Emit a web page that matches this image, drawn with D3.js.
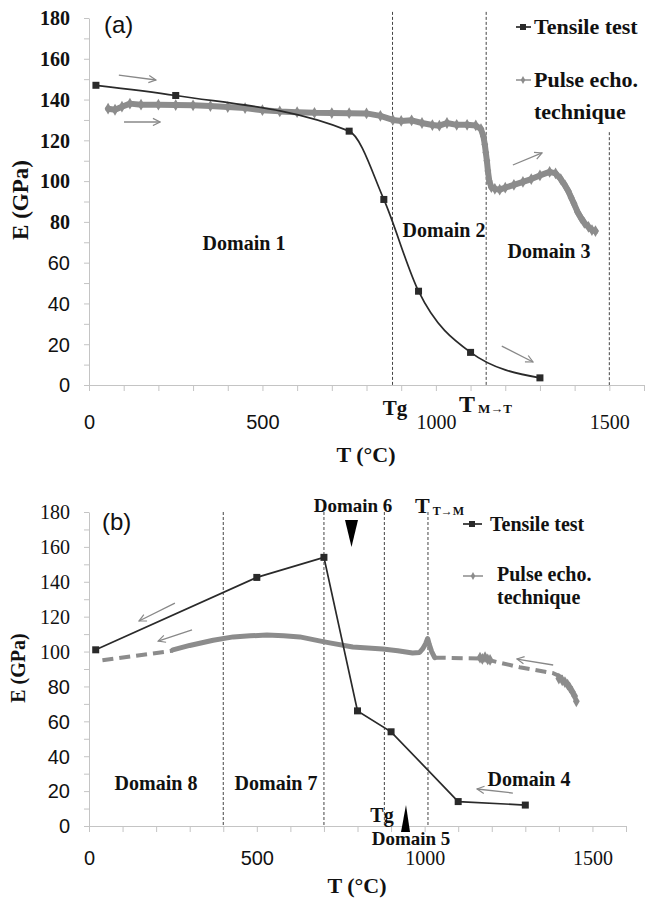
<!DOCTYPE html>
<html>
<head>
<meta charset="utf-8">
<script src="https://cdn.jsdelivr.net/npm/d3@7"></script>
<style>
  body { margin: 0; background: #fff; }
  svg text { fill: #111; }
</style>
</head>
<body>
<svg id="chart" width="645" height="898"></svg>
<script>
'use strict';

// ---------- panel (a) : heating ----------
const tensileA = [[20, 147], [250, 142], [750, 124.5], [850, 91], [950, 46], [1100, 16], [1300, 3.5]];
const pulseA = [
  [55, 135.5], [75, 135], [95, 136.5], [118, 138], [150, 137.5], [200, 137.5], [250, 137.3],
  [300, 137.2], [350, 136.8], [400, 136.3], [450, 135.8], [500, 134.8], [550, 134.2], [600, 133.8],
  [650, 133.5], [700, 133.4], [750, 133.3], [800, 133.2], [840, 132], [876, 130], [900, 129.5],
  [930, 129.8], [960, 128.5], [990, 127.5], [1010, 127.2], [1032, 128.5], [1060, 127.6], [1090, 127.6],
  [1115, 127.3], [1130, 125.5], [1137, 122], [1141, 118], [1144, 114], [1147, 110], [1150, 105],
  [1154, 100], [1160, 97], [1170, 96.2], [1184, 95.8], [1200, 96.8], [1225, 98.2], [1251, 99.6],
  [1275, 101], [1300, 102.8], [1328, 104.5], [1345, 103.8], [1360, 101], [1372, 98], [1382, 95],
  [1390, 92], [1398, 89], [1408, 85], [1418, 82], [1428, 79.5], [1440, 77.5], [1450, 76], [1460, 75.5]
];
const vlinesA = [875, 1145, 1500];
const vlineTopsA = [183, 183, 124];
const arrowsA = [[86, 152, 193, 149.6], [101, 129, 205, 129], [1222, 107.9, 1306, 113.8], [1190, 19.1, 1280, 11.3]];

// ---------- panel (b) : cooling ----------
const tensileB = [[20, 101], [500, 142.5], [700, 154], [800, 66], [900, 54], [1100, 14], [1300, 12]];
const pulseBDashLow = [[40, 95], [250, 100.5]];
const pulseBSolid = [
  [250, 101], [300, 103.5], [370, 106.5], [430, 108.4], [480, 109], [530, 109.5], [580, 109],
  [628, 108.4], [690, 106], [717, 105], [786, 102.6], [875, 101.5], [920, 100.5], [964, 99.2],
  [985, 99.5], [994, 101.5], [1003, 104.5], [1009, 107.5], [1014, 104], [1021, 100], [1030, 96.5]
];
const pulseBDashHigh = [[1030, 96.5], [1170, 96], [1205, 94.5], [1283, 91], [1381, 87.7], [1425, 84]];
const pulseBDots = [
  [1165, 96.5], [1172, 95.8], [1180, 96.8], [1188, 95.5], [1195, 95.2],
  [1400, 84.5], [1410, 83.5], [1418, 82.5], [1426, 81], [1432, 79.5], [1440, 77], [1447, 74.5], [1452, 71.5]
];
const vlinesB = [400, 700, 880, 1010];
const vlineTopsB = [180, 180, 180, 180];
const arrowsB = [[256, 127.8, 149, 117.5], [307, 112.4, 206, 106], [1383, 92.3, 1275, 95.7], [1263, 18.9, 1156, 21.2]];

const xTicks = d3.range(0, 1601, 100);
const xLabels = [0, 500, 1000, 1500];
const yTicks = d3.range(0, 181, 10);

const SERIF = '"Liberation Serif", "Times New Roman", serif';
const SANS = '"Liberation Sans", Arial, sans-serif';
const AXIS_C = '#c4c4c4';
const PULSE_C = '#8c8c8c';
const TENS_C = '#2a2a2a';

const svg = d3.select('#chart');

const defs = svg.append('defs');
defs.append('marker')
  .attr('id', 'arrow')
  .attr('viewBox', '0 0 10 10')
  .attr('refX', 9).attr('refY', 5)
  .attr('markerWidth', 9).attr('markerHeight', 9)
  .attr('markerUnits', 'userSpaceOnUse')
  .attr('orient', 'auto')
  .append('path')
  .attr('d', 'M1,1 L9,5 L1,9')
  .attr('fill', 'none')
  .attr('stroke', '#888')
  .attr('stroke-width', 1.3);

function txt(g, x, y, s, size, opts) {
  opts = opts || {};
  return g.append('text')
    .attr('x', x).attr('y', y)
    .attr('text-anchor', opts.anchor || 'middle')
    .style('font-family', opts.font || SERIF)
    .style('font-weight', opts.weight || 'bold')
    .style('font-size', size + 'px')
    .text(s);
}

function drawPanel(o) {
  const x = d3.scaleLinear().domain([0, 1600]).range([89, o.right]);
  const y = d3.scaleLinear().domain([0, 180]).range([o.bottom, o.top]);
  const g = svg.append('g');

  // y axis
  const yAxis = d3.axisLeft(y).tickValues(yTicks).tickSize(5).tickSizeOuter(0).tickPadding(14)
    .tickFormat(d => d % 20 === 0 ? d : '');
  const ya = g.append('g').attr('transform', 'translate(89,0)').call(yAxis);
  ya.select('.domain').attr('stroke', AXIS_C);
  ya.selectAll('.tick line').attr('stroke', AXIS_C);
  ya.selectAll('.tick text')
    .attr('dy', '0.34em')
    .style('font-size', '20px')
    .style('font-family', d => d >= o.serifFrom ? SERIF : SANS)
    .style('font-weight', d => d >= o.serifFrom ? o.serifWeight : 'normal');

  // x axis
  const xAxis = d3.axisBottom(x).tickValues(xTicks).tickSize(6).tickSizeOuter(0)
    .tickFormat(d => xLabels.includes(d) ? d : '');
  const xa = g.append('g').attr('transform', `translate(0,${o.bottom})`).call(xAxis);
  xa.select('.domain').attr('stroke', AXIS_C);
  xa.selectAll('.tick line').attr('stroke', AXIS_C);
  xa.selectAll('.tick text')
    .attr('y', o.xLabelOff).attr('dy', 0)
    .style('font-size', '20px')
    .style('font-family', d => d >= 1000 ? SERIF : SANS);

  // dashed domain boundaries
  g.selectAll('.vline').data(o.vlines).enter().append('line')
    .attr('x1', d => x(d)).attr('x2', d => x(d))
    .attr('y1', (d, i) => y(o.vtops[i])).attr('y2', o.bottom)
    .attr('stroke', '#444').attr('stroke-width', 1).attr('stroke-dasharray', '3,2');

  // arrows
  g.selectAll('.arr').data(o.arrows).enter().append('line')
    .attr('x1', d => x(d[0])).attr('y1', d => y(d[1]))
    .attr('x2', d => x(d[2])).attr('y2', d => y(d[3]))
    .attr('stroke', '#888').attr('stroke-width', 1.3)
    .attr('marker-end', 'url(#arrow)');

  return { g, x, y };
}

// ================= panel (a) =================
const A = drawPanel({
  right: 644, top: 18, bottom: 385, xLabelOff: 44,
  serifFrom: 80, serifWeight: 'bold',
  vlines: vlinesA, vtops: vlineTopsA, arrows: arrowsA
});

const lineA = d3.line().x(d => A.x(d[0])).y(d => A.y(d[1]));
A.g.append('path').datum(pulseA)
  .attr('d', lineA)
  .attr('fill', 'none').attr('stroke', PULSE_C).attr('stroke-width', 6)
  .attr('stroke-linejoin', 'round').attr('stroke-linecap', 'round');
A.g.selectAll('.pa').data(pulseA).enter().append('path')
  .attr('transform', d => `translate(${A.x(d[0])},${A.y(d[1])})`)
  .attr('d', d3.symbol(d3.symbolDiamond, 40))
  .attr('fill', PULSE_C);

// smoothed tensile curve (heating)
A.g.append('path').datum(tensileA)
  .attr('d', d3.line().x(d => A.x(d[0])).y(d => A.y(d[1])).curve(d3.curveMonotoneX))
  .attr('fill', 'none').attr('stroke', TENS_C).attr('stroke-width', 1.7);
A.g.selectAll('.ta').data(tensileA).enter().append('rect')
  .attr('x', d => A.x(d[0]) - 3.5).attr('y', d => A.y(d[1]) - 3.5)
  .attr('width', 7).attr('height', 7).attr('fill', TENS_C);

txt(A.g, 104, 33, '(a)', 24, { anchor: 'start', font: SANS, weight: 'normal' });
txt(A.g, 244, 250, 'Domain 1', 20);
txt(A.g, 444, 237, 'Domain 2', 20);
txt(A.g, 549, 258, 'Domain 3', 20);
txt(A.g, 395, 415, 'Tg', 21);
const tmt = txt(A.g, 459, 412, 'T', 24, { anchor: 'start' });
tmt.append('tspan').attr('dx', 3).attr('dy', 1).style('font-size', '13px').text('M\u2192T');
txt(A.g, 366, 462, 'T (\u00B0C)', 22);
txt(A.g, 0, 0, 'E (GPa)', 23).attr('transform', 'translate(28,200) rotate(-90)');

// legend (a)
A.g.append('line').attr('x1', 516).attr('x2', 531).attr('y1', 27).attr('y2', 27)
  .attr('stroke', TENS_C).attr('stroke-width', 1.7);
A.g.append('rect').attr('x', 520).attr('y', 24).attr('width', 6).attr('height', 6).attr('fill', TENS_C);
txt(A.g, 534, 34, 'Tensile test', 22, { anchor: 'start' });
A.g.append('line').attr('x1', 516).attr('x2', 531).attr('y1', 80).attr('y2', 80)
  .attr('stroke', PULSE_C).attr('stroke-width', 1.5);
A.g.append('path').attr('transform', 'translate(523,80)').attr('d', d3.symbol(d3.symbolDiamond, 18)).attr('fill', PULSE_C);
txt(A.g, 534, 87, 'Pulse echo.', 22, { anchor: 'start' });
txt(A.g, 534, 119, 'technique', 22, { anchor: 'start' });

// ================= panel (b) =================
const B = drawPanel({
  right: 626, top: 512, bottom: 826, xLabelOff: 39,
  serifFrom: 100, serifWeight: 'normal',
  vlines: vlinesB, vtops: vlineTopsB, arrows: arrowsB
});

const lineB = d3.line().x(d => B.x(d[0])).y(d => B.y(d[1]));
[pulseBDashLow, pulseBDashHigh].forEach(seg => {
  B.g.append('path').datum(seg)
    .attr('d', lineB)
    .attr('fill', 'none').attr('stroke', PULSE_C).attr('stroke-width', 4)
    .attr('stroke-dasharray', '11,6');
});
B.g.append('path').datum(pulseBSolid)
  .attr('d', lineB)
  .attr('fill', 'none').attr('stroke', PULSE_C).attr('stroke-width', 5)
  .attr('stroke-linejoin', 'round').attr('stroke-linecap', 'round');
B.g.selectAll('.pb').data(pulseBDots).enter().append('path')
  .attr('transform', d => `translate(${B.x(d[0])},${B.y(d[1])})`)
  .attr('d', d3.symbol(d3.symbolDiamond, 40))
  .attr('fill', PULSE_C);

B.g.append('path').datum(tensileB)
  .attr('d', lineB)
  .attr('fill', 'none').attr('stroke', TENS_C).attr('stroke-width', 1.7);
B.g.selectAll('.tb').data(tensileB).enter().append('rect')
  .attr('x', d => B.x(d[0]) - 3.5).attr('y', d => B.y(d[1]) - 3.5)
  .attr('width', 7).attr('height', 7).attr('fill', TENS_C);

txt(B.g, 102, 530, '(b)', 24, { anchor: 'start', font: SANS, weight: 'normal' });
txt(B.g, 353, 512, 'Domain 6', 19);
B.g.append('path').attr('d', 'M345,520 L358,520 L351.5,547 Z').attr('fill', '#000');
const ttm = txt(B.g, 415, 513, 'T', 22, { anchor: 'start' });
ttm.append('tspan').attr('dx', 3).attr('dy', 2).style('font-size', '12px').text('T\u2192M');
txt(B.g, 156, 790, 'Domain 8', 20);
txt(B.g, 276, 790, 'Domain 7', 20);
txt(B.g, 529, 786, 'Domain 4', 20);
txt(B.g, 382, 822, 'Tg', 20);
B.g.append('path').attr('d', 'M406,805 L410,832 L401,832 Z').attr('fill', '#000');
txt(B.g, 411, 845, 'Domain 5', 19);
txt(B.g, 357, 893, 'T (\u00B0C)', 22);
txt(B.g, 0, 0, 'E (GPa)', 20).attr('transform', 'translate(25,668) rotate(-90)');

// legend (b)
B.g.append('line').attr('x1', 463).attr('x2', 482).attr('y1', 524).attr('y2', 524)
  .attr('stroke', TENS_C).attr('stroke-width', 1.7);
B.g.append('rect').attr('x', 469).attr('y', 521).attr('width', 6).attr('height', 6).attr('fill', TENS_C);
txt(B.g, 490, 531, 'Tensile test', 20, { anchor: 'start' });
B.g.append('line').attr('x1', 463).attr('x2', 483).attr('y1', 576).attr('y2', 576)
  .attr('stroke', PULSE_C).attr('stroke-width', 1.5);
B.g.append('path').attr('transform', 'translate(473,576)').attr('d', d3.symbol(d3.symbolDiamond, 18)).attr('fill', PULSE_C);
txt(B.g, 497, 581, 'Pulse echo.', 20, { anchor: 'start' });
txt(B.g, 497, 604, 'technique', 20, { anchor: 'start' });
</script>
</body>
</html>
